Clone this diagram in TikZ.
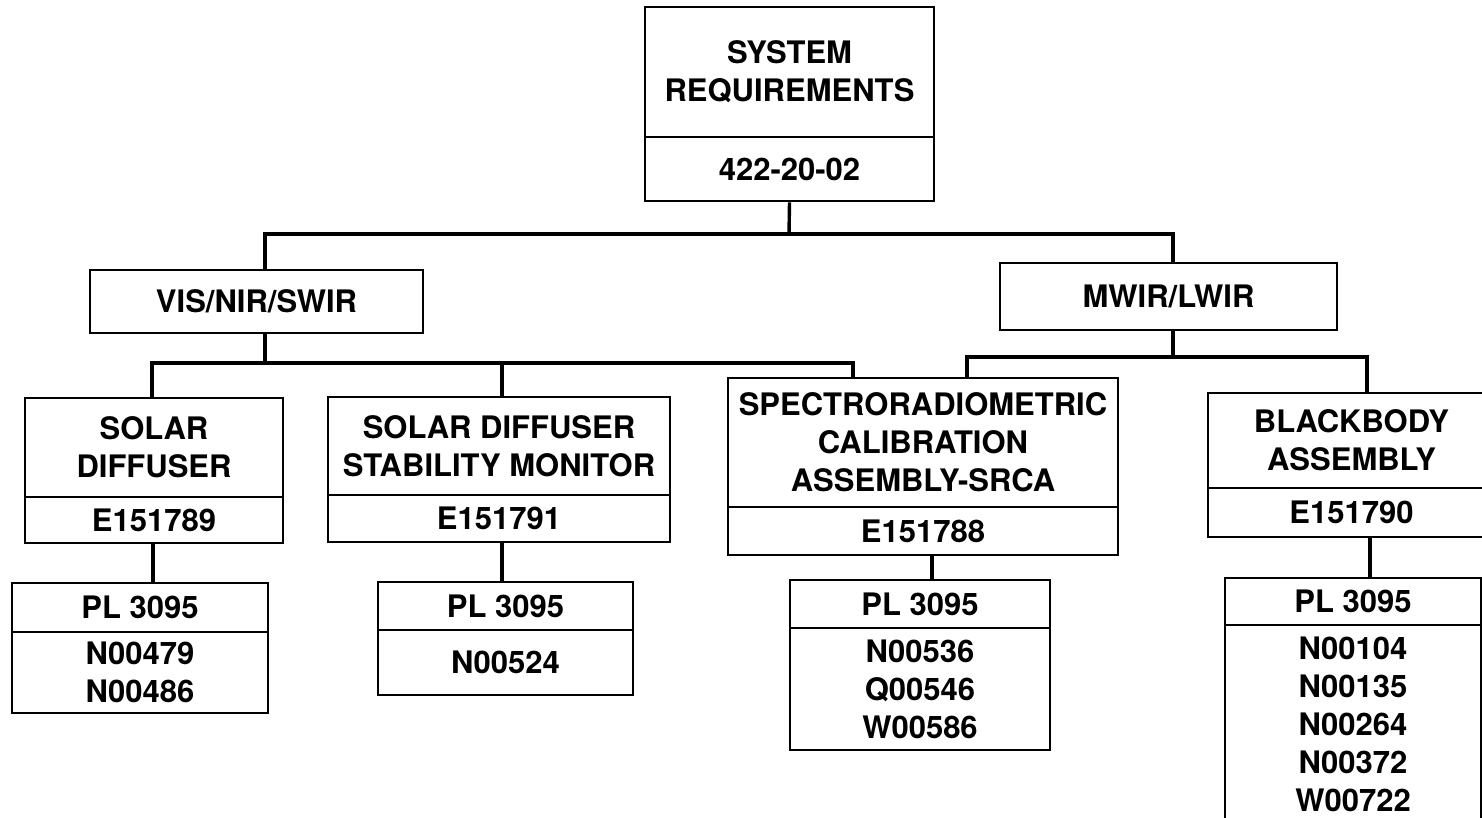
\documentclass[tikz,border=0pt]{standalone}
\usepackage{fontspec}
\setmainfont{TeX Gyre Heros}
\begin{document}
\begin{tikzpicture}[x=1pt,y=-1pt,
  box/.style={draw=black, line width=2.6pt, rectangle, inner sep=0pt, align=center,
    font=\fontsize{31}{38}\selectfont\bfseries},
  conn/.style={draw=black, line width=3.4pt}]
\useasboundingbox (0,0) rectangle (1482,817);
\clip (0,0) rectangle (1482,817);
% top
\node[box, minimum width=289pt, minimum height=130pt] (sysT) at (789.5,72) {SYSTEM\\REQUIREMENTS};
\node[box, minimum width=289pt, minimum height=64pt] (sysB) at (789.5,169) {422-20-02};
% second level
\node[box, minimum width=333pt, minimum height=63pt] (vis) at (256.5,301.5) {VIS/NIR/SWIR};
\node[box, minimum width=337pt, minimum height=67pt] (mwir) at (1168.5,296.5) {MWIR/LWIR};
% solar diffuser
\node[box, minimum width=258pt, minimum height=99pt] (sdT) at (154,447.5) {SOLAR\\DIFFUSER};
\node[box, minimum width=258pt, minimum height=46pt] (sdB) at (154,520) {E151789};
\node[box, minimum width=256pt, minimum height=49pt] (sdP) at (140,607.5) {PL 3095};
\node[box, minimum width=256pt, minimum height=81pt] (sdN) at (140,672.5) {N00479\\N00486};
% stability monitor
\node[box, minimum width=342pt, minimum height=98pt] (smT) at (499,446) {SOLAR DIFFUSER\\STABILITY MONITOR};
\node[box, minimum width=342pt, minimum height=47pt] (smB) at (499,518.5) {E151791};
\node[box, minimum width=255pt, minimum height=48pt] (smP) at (505.5,606) {PL 3095};
\node[box, minimum width=255pt, minimum height=65pt] (smN) at (505.5,662.5) {N00524};
% SRCA
\node[box, minimum width=390pt, minimum height=129pt] (srT) at (923,442.5) {SPECTRORADIOMETRIC\\CALIBRATION\\ASSEMBLY-SRCA};
\node[box, minimum width=390pt, minimum height=48pt] (srB) at (923,531) {E151788};
\node[box, minimum width=260pt, minimum height=48pt] (srP) at (920,604) {PL 3095};
\node[box, minimum width=260pt, minimum height=122pt] (srN) at (920,689) {N00536\\Q00546\\W00586};
% blackbody
\node[box, minimum width=287pt, minimum height=95pt] (bbT) at (1351.5,440.5) {BLACKBODY\\ASSEMBLY};
\node[box, minimum width=287pt, minimum height=49pt] (bbB) at (1351.5,512.5) {E151790};
\node[box, minimum width=256pt, minimum height=47pt] (bbP) at (1353,601.5) {PL 3095};
\node[box, minimum width=256pt, minimum height=198pt] (bbN) at (1353,724) {N00104\\N00135\\N00264\\N00372\\W00722};
% buses
\coordinate (busA) at (789,234);
\coordinate (busB) at (265,363);
\coordinate (busC) at (1173,357);
\draw[conn] (sysB.south) -- (busA);
\draw[conn] ([xshift=8.5pt]vis.north) |- (busA) -| ([xshift=4.5pt]mwir.north);
\draw[conn] ([xshift=8.5pt]vis.south) -- (busB);
\draw[conn] ([xshift=-2pt]sdT.north) |- (busB) -| ([xshift=-70pt]srT.north);
\draw[conn] ([xshift=3pt]smT.north) |- (busB);
\draw[conn] ([xshift=4.5pt]mwir.south) -- (busC);
\draw[conn] ([xshift=44pt]srT.north) |- (busC) -| ([xshift=15.5pt]bbT.north);
% stems
\draw[conn] ([xshift=-1pt]sdB.south) -- ([xshift=13pt]sdP.north);
\draw[conn] ([xshift=3pt]smB.south) -- ([xshift=-3.5pt]smP.north);
\draw[conn] ([xshift=9pt]srB.south) -- ([xshift=12pt]srP.north);
\draw[conn] ([xshift=18.5pt]bbB.south) -- ([xshift=17pt]bbP.north);
\end{tikzpicture}
\end{document}
